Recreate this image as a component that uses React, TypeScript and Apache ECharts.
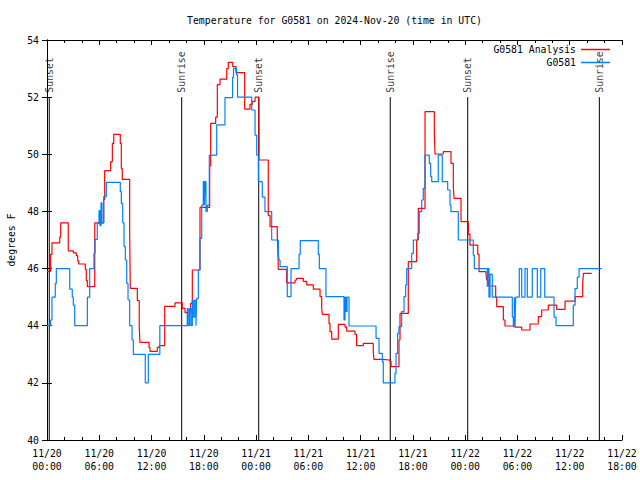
import React, { useEffect, useRef } from "react";
import * as echarts from "echarts";

const FONT = '"DejaVu Sans Mono", "Liberation Mono", monospace';
const FS = 9.8;

const titleText = "Temperature for G0581 on 2024-Nov-20 (time in UTC)";
const seriesNames = ["G0581 Analysis", "G0581"];
const yTicks = { min: 40, max: 54, step: 2 };
const xRange = { min: 0, max: 66, step: 6 }; // hours since 11/20 00:00 UTC
const startMonth = 11;
const startDay = 20;

// G0581 Analysis (hours since start, degrees F)
const analysisHours = [
  0, 0.42, 0.57, 1.46, 1.57, 2.44, 3.02, 3.36, 3.52, 3.64, 4.4, 4.51, 4.63, 5.48, 6.51, 6.62, 7.31, 7.5, 7.66,
  8.41, 8.53, 8.64, 9.49, 9.56, 10.37, 10.59, 10.67, 11.71, 11.82, 12.66, 12.89, 13.51, 14.69, 15.53, 15.84,
  16.49, 16.68, 17.56, 18.67, 18.79, 19.36, 19.55, 19.86, 20.63, 20.81, 21.32, 21.69, 22.69, 23.3, 23.57, 23.88,
  24.33, 25.4, 25.6, 26.43, 26.51, 26.55, 27.51, 28.47, 28.66, 29.42, 29.81, 30.57, 31.34, 31.53, 31.6, 32.37,
  32.48, 32.68, 33.44, 34.21, 34.4, 35.35, 35.54, 36.31, 37.45, 37.53, 38.42, 39.37, 39.49, 40.4, 40.52, 41.47,
  42.43, 42.62, 43.39, 44.46, 44.54, 45.49, 46.37, 46.64, 46.72, 47.52, 48.36, 48.55, 49.44, 49.59, 50.39, 50.47,
  50.66, 51.5, 51.62, 52.38, 52.57, 53.72, 54.49, 55.44, 56.39, 56.78, 57.54, 58.5, 59.46, 60.61, 61.49, 61.56,
  62.52,
];
const analysisTemps = [
  45.9, 46.5, 46.9, 47.1, 47.6, 46.62, 46.55, 46.45, 46.27, 46.16, 45.97, 45.58, 45.37, 47.6, 48.42, 49.43, 49.74,
  50.38, 50.7, 50.38, 49.5, 49.12, 47.23, 45.31, 44.88, 43.92, 43.42, 43.24, 43.1, 43.24, 43.3, 44.68, 44.8, 44.61,
  44.46, 44.78, 45.95, 48.14, 49.6, 51.08, 51.3, 52.44, 52.63, 53.0, 53.22, 53.07, 52.86, 51.58, 51.75, 51.85, 52.0,
  49.8, 47.85, 47.47, 47.17, 46.5, 45.97, 45.5, 45.6, 45.66, 45.55, 45.43, 45.28, 45.02, 44.61, 44.4, 44.08,
  43.79, 43.53, 44.05, 43.95, 43.81, 43.7, 43.3, 43.38, 43.1, 42.82, 42.8, 42.75, 42.57, 43.5, 44.43, 46.24,
  47.0, 48.11, 51.49, 50.73, 50.01, 50.09, 49.68, 48.87, 48.46, 47.64, 47.2, 46.82, 46.5, 45.89, 45.8, 45.6,
  45.39, 45.0, 44.67, 44.2, 43.99, 43.95, 43.85, 44.06, 44.32, 44.55, 44.72, 44.57, 44.86, 45.02, 45.43, 45.83,
  45.83,
];

// G0581 observations
const obsHours = [
  0, 0.42, 0.57, 0.95, 1.07, 2.61, 2.9, 3.02, 3.18, 4.63, 4.9, 5.39, 5.51, 5.77, 5.97, 6.08, 6.2, 6.31, 6.51, 6.81,
  8.41, 8.53, 8.69, 8.84, 8.99, 9.15, 9.3, 9.49, 9.76, 9.91, 11.28, 11.63, 12.95, 16.1, 16.21, 16.37, 16.53, 16.68,
  16.79, 16.95, 17.1, 17.18, 17.37, 17.56, 17.76, 17.94, 18.06, 18.14, 18.25, 18.4, 18.63, 19.48, 20.43, 21.3,
  21.41, 21.76, 21.87, 23.5, 23.88, 24.07, 24.26, 24.71, 25.02, 25.79, 26.55, 26.63, 26.75, 27.58, 28.01, 28.93,
  29.07, 31.14, 31.26, 32.02, 34.09, 34.21, 34.32, 34.44, 34.67, 37.77, 38.11, 38.49, 38.6, 39.94, 40.06, 40.25,
  40.4, 40.71, 40.98, 41.17, 41.29, 41.86, 42.05, 42.55, 42.73, 43.01, 43.19, 43.39, 43.88, 44.04, 44.16, 44.91,
  45.37, 45.99, 46.26, 46.37, 47.21, 48.93, 49.05, 50.54, 50.62, 50.73, 50.85, 51.11, 53.41, 53.53, 53.64, 53.72,
  53.8, 54.21, 54.49, 54.87, 55.13, 55.7, 56.28, 56.67, 57.13, 58.2, 58.43, 60.41, 60.61, 60.87, 61.07, 63.67,
];
const obsTemps = [
  44.0, 44.2, 45.0, 45.48, 46.0, 45.28, 45.0, 44.72, 44.0, 45.0, 46.0, 46.53, 47.02, 47.58, 48.03, 47.5, 48.3, 47.6,
  48.52, 49.02, 48.7, 48.28, 47.6, 46.77, 46.3, 45.48, 44.9, 44.0, 43.5, 43.0, 42.0, 43.0, 44.0, 44.6, 44.0, 44.6,
  44.0, 44.9, 44.3, 44.9, 44.0, 44.96, 45.95, 47.06, 48.22, 49.04, 48.22, 49.04, 48.0, 48.22, 49.97, 51.03, 51.98,
  52.69, 53.0, 52.78, 52.0, 51.55, 50.67, 49.97, 49.04, 48.5, 47.99, 47.0, 46.53, 46.3, 46.07, 45.02, 46.0, 46.5,
  46.98, 46.5, 46.0, 45.02, 44.2, 45.0, 44.5, 45.0, 43.99, 43.56, 43.03, 42.74, 42.0, 42.33, 43.03, 43.73, 43.97,
  44.49, 45.02, 45.43, 46.0, 46.53, 47.0, 47.23, 47.99, 48.4, 48.81, 49.97, 49.68, 49.22, 49.04, 49.97, 49.04,
  48.75, 48.22, 47.99, 47.0, 46.47, 46.0, 45.36, 46.0, 45.0, 45.8, 45.0, 44.3, 43.97, 45.0, 44.0, 45.0, 46.0, 45.0,
  46.0, 45.0, 46.0, 45.0, 46.0, 45.0, 44.3, 44.0, 44.72, 45.3, 45.7, 46.0, 46.0,
];

// Sunrise / sunset events (hours since start)
const eventHours = [0.26, 15.46, 24.3, 39.4, 48.29, 63.4];
const eventNames = ["Sunset", "Sunrise", "Sunset", "Sunrise", "Sunset", "Sunrise"];
const eventTop = 52;

const fmtX = (v: number) => {
  const day = startDay + Math.floor(v / 24);
  const hh = Math.round(v % 24);
  return `${startMonth}/${day}\n${String(hh).padStart(2, "0")}:00`;
};

export default function App() {
  const ref = useRef<HTMLDivElement>(null);
  useEffect(() => {
    if (!ref.current) return;
    const chart = echarts.init(ref.current, undefined, { renderer: "svg" });
    const grid = { left: 47, right: 18, top: 40, bottom: 40, containLabel: false, outerBoundsMode: "none" };
    const axisCommon = {
      axisLine: { show: true, lineStyle: { color: "#000", width: 1 } },
      splitLine: { show: false },
    };
    const xBase = {
      type: "value" as const,
      min: xRange.min,
      max: xRange.max,
      interval: xRange.step,
      ...axisCommon,
      axisTick: { show: true, inside: true, length: 5, lineStyle: { color: "#000" } },
      minorTick: { show: true, splitNumber: 3, length: 3, lineStyle: { color: "#000" } },
    };
    const yBase = {
      type: "value" as const,
      min: yTicks.min,
      max: yTicks.max,
      interval: yTicks.step,
      ...axisCommon,
      axisTick: { show: true, inside: true, length: 5, lineStyle: { color: "#000" } },
    };
    const eventSeries = eventHours.map((h, i) => ({
      type: "line",
      name: "ev" + i,
      data: [
        [h, yTicks.min],
        [h, eventTop],
      ],
      showSymbol: false,
      symbol: "none",
      lineStyle: { color: "#000", width: 1 },
      silent: true,
      z: 1,
    }));
    chart.setOption({
      animation: false,
      backgroundColor: "#fff",
      textStyle: { fontFamily: FONT },
      grid,
      xAxis: [
        {
          ...xBase,
          position: "bottom",
          axisLabel: {
            show: true,
            formatter: fmtX,
            color: "#000",
            fontFamily: FONT,
            fontSize: FS,
            margin: 7,
            lineHeight: 13,
            showMinLabel: true,
            showMaxLabel: true,
          },
        },
        { ...xBase, position: "top", axisLabel: { show: false } },
      ],
      yAxis: [
        {
          ...yBase,
          position: "left",
          name: "degrees F",
          nameLocation: "middle",
          nameGap: 31,
          nameTextStyle: { color: "#000", fontFamily: FONT, fontSize: FS },
          axisLabel: { color: "#000", fontFamily: FONT, fontSize: FS, margin: 8 },
        },
        { ...yBase, position: "right", axisLabel: { show: false } },
      ],
      legend: {
        data: seriesNames,
        orient: "vertical",
        right: 30,
        top: 44,
        align: "right",
        icon: "rect",
        itemWidth: 29,
        itemHeight: 1.5,
        itemGap: 2,
        padding: 0,
        textStyle: { color: "#000", fontFamily: FONT, fontSize: FS, lineHeight: 11 },
      },
      graphic: [
        {
          type: "text",
          x: 334.5,
          y: 20,
          style: {
            text: titleText,
            fill: "#000",
            font: `${FS}px ${FONT}`,
            align: "center",
            verticalAlign: "middle",
          },
        },
      ],
      series: [
        ...eventSeries,
        {
          type: "scatter",
          name: "events",
          data: eventHours.map((h, i) => [h, eventTop, eventNames[i]]),
          symbolSize: 1,
          itemStyle: { color: "rgba(0,0,0,0)" },
          silent: true,
          label: {
            show: true,
            position: "top",
            distance: 4,
            rotate: 90,
            align: "left",
            verticalAlign: "middle",
            formatter: (p: any) => p.value[2],
            color: "#000",
            fontFamily: FONT,
            fontSize: FS,
          },
        },
        {
          type: "line",
          name: seriesNames[0],
          data: analysisHours.map((h, i) => [h, analysisTemps[i]]),
          step: "end",
          showSymbol: false,
          symbol: "none",
          color: "#ff0000",
          lineStyle: { color: "#ff0000", width: 1.2 },
          z: 3,
        },
        {
          type: "line",
          name: seriesNames[1],
          data: obsHours.map((h, i) => [h, obsTemps[i]]),
          step: "end",
          showSymbol: false,
          symbol: "none",
          color: "#0080ff",
          lineStyle: { color: "#0080ff", width: 1.2 },
          z: 4,
        },
      ],
    });
    return () => chart.dispose();
  }, []);
  return (
    <div
      ref={ref}
      style={{ position: "fixed", left: 0, top: 0, width: 640, height: 480, background: "#fff" }}
    />
  );
}
